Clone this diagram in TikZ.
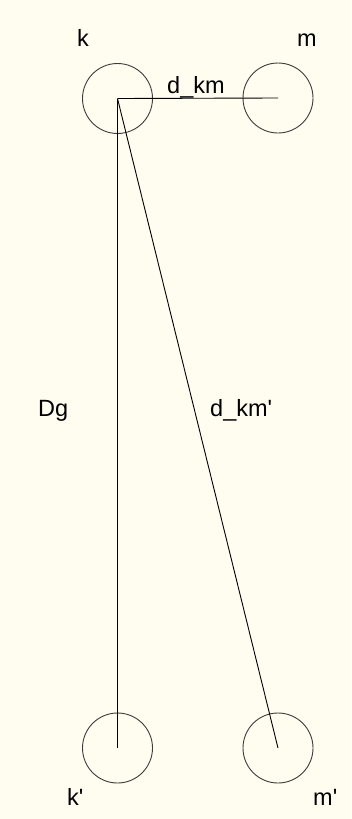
\documentclass[tikz,border=0pt]{standalone}
\usepackage{fontspec}
\setmainfont{Liberation Sans}
\usepackage{xcolor}
\definecolor{papercolor}{RGB}{255, 252, 240}
\definecolor{ringcolor}{RGB}{60, 60, 60}
\usepackage{tikz}

\begin{document}
\begin{tikzpicture}[
    x=1pt, y=-1pt,
    conductor/.style={circle, draw=ringcolor, line width=0.9pt, minimum size=70pt, inner sep=0pt},
    tag/.style={anchor=base west, inner sep=0pt, font=\fontsize{23.5}{28}\selectfont},
    link/.style={draw=black, line width=0.9pt}
]

% Background
\fill[papercolor] (0,0) rectangle (351,819);

% Nodes
\node[conductor] (k) at (117.5,98.5) {};
\node[conductor] (m) at (278,98) {};
\node[conductor] (kp) at (117.5,748) {};
\node[conductor] (mp) at (278,748) {};

% Labels
\node[tag] (klabel) at (77,46) {k};
\node[tag] (mlabel) at (297,46) {m};
\node[tag] (kplabel) at (67,805) {k\textquotesingle};
\node[tag] (mplabel) at (313,805) {m\textquotesingle};
\node[tag] (dkm) at (167,93) {d\_km};
\node[tag] (dg) at (38,416) {Dg};
\node[tag] (dkmp) at (210,416) {d\_km\textquotesingle};

% Connections
\draw[link] (k.center) -- (m.center);
\draw[link] (k.center) -- (kp.center);
\draw[link] (k.center) -- (mp.center);

\end{tikzpicture}
\end{document}
